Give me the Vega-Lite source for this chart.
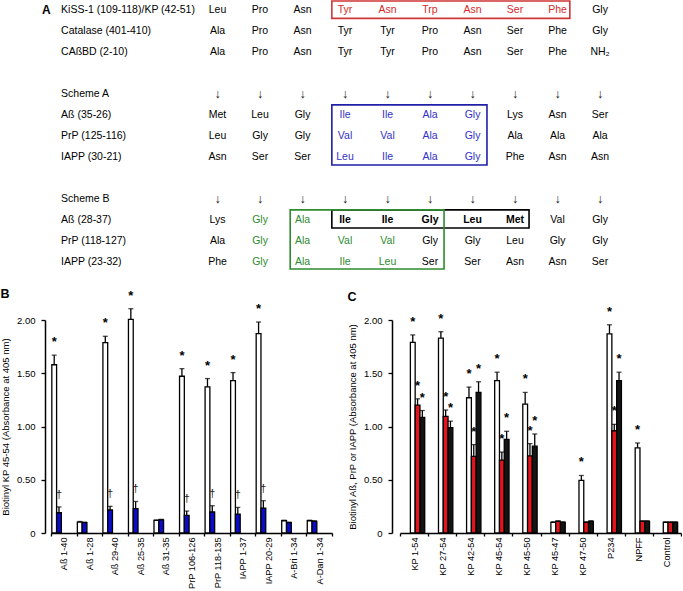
{
  "$schema": "https://vega.github.io/schema/vega-lite/v6.json",
  "padding": 0,
  "background": "white",
  "config": {
    "view": {"stroke": null},
    "font": "Liberation Sans",
    "axis": {"labelColor": "black", "tickColor": "black", "domainColor": "black", "titleColor": "black", "grid": false, "labelFontSize": 9.5, "titleFontSize": 9.5, "titleFontWeight": "normal", "domainWidth": 1.5, "tickWidth": 1.3},
    "title": {"color": "black"}
  },
  "datasets": {
    "cells": [
      {"r":0,"c":1,"t":"Leu","k":"p"},{"r":0,"c":2,"t":"Pro","k":"p"},{"r":0,"c":3,"t":"Asn","k":"p"},{"r":0,"c":4,"t":"Tyr","k":"r"},{"r":0,"c":5,"t":"Asn","k":"r"},{"r":0,"c":6,"t":"Trp","k":"r"},{"r":0,"c":7,"t":"Asn","k":"r"},{"r":0,"c":8,"t":"Ser","k":"r"},{"r":0,"c":9,"t":"Phe","k":"r"},{"r":0,"c":10,"t":"Gly","k":"p"},
      {"r":1,"c":1,"t":"Ala","k":"p"},{"r":1,"c":2,"t":"Pro","k":"p"},{"r":1,"c":3,"t":"Asn","k":"p"},{"r":1,"c":4,"t":"Tyr","k":"p"},{"r":1,"c":5,"t":"Tyr","k":"p"},{"r":1,"c":6,"t":"Pro","k":"p"},{"r":1,"c":7,"t":"Asn","k":"p"},{"r":1,"c":8,"t":"Ser","k":"p"},{"r":1,"c":9,"t":"Phe","k":"p"},{"r":1,"c":10,"t":"Gly","k":"p"},
      {"r":2,"c":1,"t":"Ala","k":"p"},{"r":2,"c":2,"t":"Pro","k":"p"},{"r":2,"c":3,"t":"Asn","k":"p"},{"r":2,"c":4,"t":"Tyr","k":"p"},{"r":2,"c":5,"t":"Tyr","k":"p"},{"r":2,"c":6,"t":"Pro","k":"p"},{"r":2,"c":7,"t":"Asn","k":"p"},{"r":2,"c":8,"t":"Ser","k":"p"},{"r":2,"c":9,"t":"Phe","k":"p"},{"r":2,"c":10,"t":"NH₂","k":"p"},
      {"r":4,"c":1,"t":"↓","k":"a"},{"r":4,"c":2,"t":"↓","k":"a"},{"r":4,"c":3,"t":"↓","k":"a"},{"r":4,"c":4,"t":"↓","k":"a"},{"r":4,"c":5,"t":"↓","k":"a"},{"r":4,"c":6,"t":"↓","k":"a"},{"r":4,"c":7,"t":"↓","k":"a"},{"r":4,"c":8,"t":"↓","k":"a"},{"r":4,"c":9,"t":"↓","k":"a"},{"r":4,"c":10,"t":"↓","k":"a"},
      {"r":5,"c":1,"t":"Met","k":"p"},{"r":5,"c":2,"t":"Leu","k":"p"},{"r":5,"c":3,"t":"Gly","k":"p"},{"r":5,"c":4,"t":"Ile","k":"b"},{"r":5,"c":5,"t":"Ile","k":"b"},{"r":5,"c":6,"t":"Ala","k":"b"},{"r":5,"c":7,"t":"Gly","k":"b"},{"r":5,"c":8,"t":"Lys","k":"p"},{"r":5,"c":9,"t":"Asn","k":"p"},{"r":5,"c":10,"t":"Ser","k":"p"},
      {"r":6,"c":1,"t":"Leu","k":"p"},{"r":6,"c":2,"t":"Gly","k":"p"},{"r":6,"c":3,"t":"Gly","k":"p"},{"r":6,"c":4,"t":"Val","k":"b"},{"r":6,"c":5,"t":"Val","k":"b"},{"r":6,"c":6,"t":"Ala","k":"b"},{"r":6,"c":7,"t":"Gly","k":"b"},{"r":6,"c":8,"t":"Ala","k":"p"},{"r":6,"c":9,"t":"Ala","k":"p"},{"r":6,"c":10,"t":"Ala","k":"p"},
      {"r":7,"c":1,"t":"Asn","k":"p"},{"r":7,"c":2,"t":"Ser","k":"p"},{"r":7,"c":3,"t":"Ser","k":"p"},{"r":7,"c":4,"t":"Leu","k":"b"},{"r":7,"c":5,"t":"Ile","k":"b"},{"r":7,"c":6,"t":"Ala","k":"b"},{"r":7,"c":7,"t":"Gly","k":"b"},{"r":7,"c":8,"t":"Phe","k":"p"},{"r":7,"c":9,"t":"Asn","k":"p"},{"r":7,"c":10,"t":"Asn","k":"p"},
      {"r":9,"c":1,"t":"↓","k":"a"},{"r":9,"c":2,"t":"↓","k":"a"},{"r":9,"c":3,"t":"↓","k":"a"},{"r":9,"c":4,"t":"↓","k":"a"},{"r":9,"c":5,"t":"↓","k":"a"},{"r":9,"c":6,"t":"↓","k":"a"},{"r":9,"c":7,"t":"↓","k":"a"},{"r":9,"c":8,"t":"↓","k":"a"},{"r":9,"c":9,"t":"↓","k":"a"},{"r":9,"c":10,"t":"↓","k":"a"},
      {"r":10,"c":1,"t":"Lys","k":"p"},{"r":10,"c":2,"t":"Gly","k":"g"},{"r":10,"c":3,"t":"Ala","k":"g"},{"r":10,"c":4,"t":"Ile","k":"k"},{"r":10,"c":5,"t":"Ile","k":"k"},{"r":10,"c":6,"t":"Gly","k":"k"},{"r":10,"c":7,"t":"Leu","k":"k"},{"r":10,"c":8,"t":"Met","k":"k"},{"r":10,"c":9,"t":"Val","k":"p"},{"r":10,"c":10,"t":"Gly","k":"p"},
      {"r":11,"c":1,"t":"Ala","k":"p"},{"r":11,"c":2,"t":"Gly","k":"g"},{"r":11,"c":3,"t":"Ala","k":"g"},{"r":11,"c":4,"t":"Val","k":"g"},{"r":11,"c":5,"t":"Val","k":"g"},{"r":11,"c":6,"t":"Gly","k":"p"},{"r":11,"c":7,"t":"Gly","k":"p"},{"r":11,"c":8,"t":"Leu","k":"p"},{"r":11,"c":9,"t":"Gly","k":"p"},{"r":11,"c":10,"t":"Gly","k":"p"},
      {"r":12,"c":1,"t":"Phe","k":"p"},{"r":12,"c":2,"t":"Gly","k":"g"},{"r":12,"c":3,"t":"Ala","k":"g"},{"r":12,"c":4,"t":"Ile","k":"g"},{"r":12,"c":5,"t":"Leu","k":"g"},{"r":12,"c":6,"t":"Ser","k":"p"},{"r":12,"c":7,"t":"Ser","k":"p"},{"r":12,"c":8,"t":"Asn","k":"p"},{"r":12,"c":9,"t":"Asn","k":"p"},{"r":12,"c":10,"t":"Ser","k":"p"}
    ],
    "labels": [
      {"r":0,"c":-2.68,"t":"KiSS-1 (109-118)/KP (42-51)"},
      {"r":1,"c":-2.68,"t":"Catalase (401-410)"},
      {"r":2,"c":-2.68,"t":"CAßBD (2-10)"},
      {"r":4,"c":-2.68,"t":"Scheme A"},
      {"r":5,"c":-2.68,"t":"Aß (35-26)"},
      {"r":6,"c":-2.68,"t":"PrP (125-116)"},
      {"r":7,"c":-2.68,"t":"IAPP (30-21)"},
      {"r":9,"c":-2.68,"t":"Scheme B"},
      {"r":10,"c":-2.68,"t":"Aß (28-37)"},
      {"r":11,"c":-2.68,"t":"PrP (118-127)"},
      {"r":12,"c":-2.68,"t":"IAPP (23-32)"}
    ],
    "boxes": [
      {"c1":3.69,"c2":9.29,"r1":-0.43,"r2":0.4,"k":"r"},
      {"c1":3.69,"c2":7.34,"r1":4.52,"r2":7.38,"k":"b"},
      {"c1":3.69,"c2":8.33,"r1":9.52,"r2":10.38,"k":"k"},
      {"c1":2.71,"c2":6.33,"r1":9.52,"r2":12.33,"k":"g"}
    ],
    "b": [
      {"g":"Aß 1-40","s":"1","v":1.58,"hi":1.67,"m":"*"},{"g":"Aß 1-40","s":"2","v":0.19,"hi":0.245,"m":"†"},
      {"g":"Aß 1-28","s":"1","v":0.103,"hi":0.108,"m":""},{"g":"Aß 1-28","s":"2","v":0.097,"hi":0.102,"m":""},
      {"g":"Aß 29-40","s":"1","v":1.787,"hi":1.847,"m":"*"},{"g":"Aß 29-40","s":"2","v":0.216,"hi":0.25,"m":"†"},
      {"g":"Aß 25-35","s":"1","v":2.006,"hi":2.106,"m":"*"},{"g":"Aß 25-35","s":"2","v":0.228,"hi":0.296,"m":"†"},
      {"g":"Aß 31-35","s":"1","v":0.118,"hi":0.122,"m":""},{"g":"Aß 31-35","s":"2","v":0.124,"hi":0.128,"m":""},
      {"g":"PrP 106-126","s":"1","v":1.472,"hi":1.543,"m":"*"},{"g":"PrP 106-126","s":"2","v":0.165,"hi":0.206,"m":"†"},
      {"g":"PrP 118-135","s":"1","v":1.372,"hi":1.45,"m":"*"},{"g":"PrP 118-135","s":"2","v":0.197,"hi":0.256,"m":"†"},
      {"g":"IAPP 1-37","s":"1","v":1.431,"hi":1.506,"m":"*"},{"g":"IAPP 1-37","s":"2","v":0.178,"hi":0.24,"m":"†"},
      {"g":"IAPP 20-29","s":"1","v":1.872,"hi":1.981,"m":"*"},{"g":"IAPP 20-29","s":"2","v":0.234,"hi":0.303,"m":"†"},
      {"g":"A-Bri 1-34","s":"1","v":0.115,"hi":0.12,"m":""},{"g":"A-Bri 1-34","s":"2","v":0.097,"hi":0.102,"m":""},
      {"g":"A-Dan 1-34","s":"1","v":0.115,"hi":0.12,"m":""},{"g":"A-Dan 1-34","s":"2","v":0.11,"hi":0.115,"m":""}
    ],
    "c": [
      {"g":"KP 1-54","s":"Aß","v":1.79,"hi":1.86,"m":"*"},{"g":"KP 1-54","s":"PrP","v":1.2,"hi":1.26,"m":"*"},{"g":"KP 1-54","s":"IAPP","v":1.085,"hi":1.15,"m":"*"},
      {"g":"KP 27-54","s":"Aß","v":1.83,"hi":1.89,"m":"*"},{"g":"KP 27-54","s":"PrP","v":1.095,"hi":1.155,"m":"*"},{"g":"KP 27-54","s":"IAPP","v":0.99,"hi":1.05,"m":"*"},
      {"g":"KP 42-54","s":"Aß","v":1.27,"hi":1.37,"m":"*"},{"g":"KP 42-54","s":"PrP","v":0.72,"hi":0.83,"m":"*"},{"g":"KP 42-54","s":"IAPP","v":1.32,"hi":1.42,"m":"*"},
      {"g":"KP 45-54","s":"Aß","v":1.43,"hi":1.51,"m":"*"},{"g":"KP 45-54","s":"PrP","v":0.685,"hi":0.76,"m":"*"},{"g":"KP 45-54","s":"IAPP","v":0.88,"hi":0.955,"m":"*"},
      {"g":"KP 45-50","s":"Aß","v":1.21,"hi":1.32,"m":"*"},{"g":"KP 45-50","s":"PrP","v":0.725,"hi":0.84,"m":"*"},{"g":"KP 45-50","s":"IAPP","v":0.815,"hi":0.93,"m":"*"},
      {"g":"KP 45-47","s":"Aß","v":0.1,"hi":0.105,"m":""},{"g":"KP 45-47","s":"PrP","v":0.11,"hi":0.115,"m":""},{"g":"KP 45-47","s":"IAPP","v":0.1,"hi":0.105,"m":""},
      {"g":"KP 47-50","s":"Aß","v":0.495,"hi":0.54,"m":"*"},{"g":"KP 47-50","s":"PrP","v":0.1,"hi":0.105,"m":""},{"g":"KP 47-50","s":"IAPP","v":0.11,"hi":0.115,"m":""},
      {"g":"P234","s":"Aß","v":1.87,"hi":1.955,"m":"*"},{"g":"P234","s":"PrP","v":0.96,"hi":1.02,"m":"*"},{"g":"P234","s":"IAPP","v":1.43,"hi":1.51,"m":"*"},
      {"g":"NPFF","s":"Aß","v":0.8,"hi":0.845,"m":"*"},{"g":"NPFF","s":"PrP","v":0.11,"hi":0.115,"m":""},{"g":"NPFF","s":"IAPP","v":0.11,"hi":0.115,"m":""},
      {"g":"Control","s":"Aß","v":0.1,"hi":0.105,"m":""},{"g":"Control","s":"PrP","v":0.1,"hi":0.105,"m":""},{"g":"Control","s":"IAPP","v":0.1,"hi":0.105,"m":""}
    ]
  },
  "spacing": 16,
  "align": "none",
  "resolve": {"scale": {"color": "independent", "fill": "independent", "stroke": "independent"}},
  "vconcat": [
    {
      "width": 631,
      "height": 272,
      "layer": [
        {
          "data": {"name": "boxes"},
          "mark": {"type": "rect", "filled": false, "strokeWidth": 1.6},
          "encoding": {
            "x": {"field": "c1", "type": "quantitative", "scale": {"domain": [-2.918, 11.929], "nice": false, "zero": false}, "axis": null},
            "x2": {"field": "c2"},
            "y": {"field": "r1", "type": "quantitative", "scale": {"domain": [-0.476, 12.476], "nice": false, "zero": false, "reverse": true}, "axis": null},
            "y2": {"field": "r2"},
            "stroke": {"field": "k", "type": "nominal", "scale": {"domain": ["p", "r", "b", "g", "k"], "range": ["#000000", "#d03535", "#1f1fa8", "#2e8b2e", "#000000"]}, "legend": null}
          }
        },
        {
          "data": {"name": "cells"},
          "transform": [{"filter": "datum.k !== 'k' && datum.k !== 'a'"}],
          "mark": {"type": "text", "fontSize": 10.5, "align": "center", "baseline": "middle"},
          "encoding": {
            "x": {"field": "c", "type": "quantitative"},
            "y": {"field": "r", "type": "quantitative"},
            "text": {"field": "t"},
            "fill": {"field": "k", "type": "nominal", "scale": {"domain": ["p", "r", "b", "g", "k"], "range": ["#000000", "#d42a2a", "#3232c8", "#2e8b2e", "#000000"]}, "legend": null}
          }
        },
        {
          "data": {"name": "cells"},
          "transform": [{"filter": "datum.k === 'a'"}],
          "mark": {"type": "text", "fontSize": 12.5, "align": "center", "baseline": "middle", "fill": "#222222"},
          "encoding": {
            "x": {"field": "c", "type": "quantitative"},
            "y": {"field": "r", "type": "quantitative"},
            "text": {"field": "t"}
          }
        },
        {
          "data": {"name": "cells"},
          "transform": [{"filter": "datum.k === 'k'"}],
          "mark": {"type": "text", "fontSize": 10.5, "fontWeight": "bold", "align": "center", "baseline": "middle", "fill": "black"},
          "encoding": {
            "x": {"field": "c", "type": "quantitative"},
            "y": {"field": "r", "type": "quantitative"},
            "text": {"field": "t"}
          }
        },
        {
          "data": {"name": "labels"},
          "mark": {"type": "text", "fontSize": 10.5, "align": "left", "baseline": "middle", "fill": "black"},
          "encoding": {
            "x": {"field": "c", "type": "quantitative"},
            "y": {"field": "r", "type": "quantitative"},
            "text": {"field": "t"}
          }
        },
        {
          "data": {"values": [{"t": "A", "c": -3.13, "r": 0}]},
          "mark": {"type": "text", "fontSize": 12, "fontWeight": "bold", "align": "left", "baseline": "middle", "fill": "black"},
          "encoding": {
            "x": {"field": "c", "type": "quantitative"},
            "y": {"field": "r", "type": "quantitative"},
            "text": {"field": "t"}
          }
        }
      ]
    },
    {
      "spacing": 14,
      "align": "none",
      "resolve": {"scale": {"color": "independent", "fill": "independent", "stroke": "independent"}},
      "hconcat": [
        {
          "width": 281,
          "height": 213,
          "title": {"text": "B", "anchor": "start", "frame": "bounds", "fontSize": 12.5, "fontWeight": "bold", "offset": -11},
          "data": {"name": "b"},
          "encoding": {
            "x": {"field": "g", "type": "nominal", "sort": null, "scale": {"paddingInner": 0, "paddingOuter": 0},
                  "axis": {"title": null, "labelAngle": -90, "tickBand": "extent", "tickSize": 3, "labelPadding": 1, "labelFontSize": 9.2}},
            "xOffset": {"field": "s", "type": "nominal", "sort": null, "scale": {"paddingInner": 0, "paddingOuter": 0.17}}
          },
          "layer": [
            {
              "mark": {"type": "rule", "strokeWidth": 1.3, "color": "black"},
              "encoding": {
                "y": {"field": "v", "type": "quantitative", "scale": {"domain": [0, 2], "nice": false},
                      "axis": {"title": "Biotinyl KP 45-54 (Absorbance at 405 nm)", "values": [0, 0.25, 0.5, 0.75, 1, 1.25, 1.5, 1.75, 2], "labelExpr": "datum.value === 0 ? '0' : format(datum.value, '.2f')", "offset": 6, "tickSize": 4, "labelPadding": 6, "titlePadding": 6}},
                "y2": {"field": "hi"}
              }
            },
            {
              "mark": {"type": "tick", "thickness": 1.3, "size": 5, "color": "black"},
              "encoding": {"y": {"field": "hi", "type": "quantitative", "title": "Biotinyl KP 45-54 (Absorbance at 405 nm)"}}
            },
            {
              "mark": {"type": "bar", "stroke": "black", "strokeWidth": 1.3},
              "encoding": {
                "y": {"field": "v", "type": "quantitative", "title": "Biotinyl KP 45-54 (Absorbance at 405 nm)"},
                "fill": {"field": "s", "type": "nominal", "scale": {"domain": ["1", "2"], "range": ["#ffffff", "#0b0bcc"]}, "legend": null}
              }
            },
            {
              "transform": [{"filter": "datum.m === '*'"}],
              "mark": {"type": "text", "fontSize": 13, "fontWeight": "bold", "baseline": "alphabetic", "dy": -9, "fill": "black"},
              "encoding": {"y": {"field": "hi", "type": "quantitative", "title": "Biotinyl KP 45-54 (Absorbance at 405 nm)"}, "text": {"field": "m"}}
            },
            {
              "transform": [{"filter": "datum.m === '†'"}],
              "mark": {"type": "text", "fontSize": 11, "baseline": "alphabetic", "dy": -9, "fill": "#222222"},
              "encoding": {"y": {"field": "hi", "type": "quantitative", "title": "Biotinyl KP 45-54 (Absorbance at 405 nm)"}, "text": {"field": "m"}}
            }
          ]
        },
        {
          "width": 281,
          "height": 213,
          "title": {"text": "C", "anchor": "start", "frame": "bounds", "fontSize": 12.5, "fontWeight": "bold", "offset": 2},
          "data": {"name": "c"},
          "encoding": {
            "x": {"field": "g", "type": "nominal", "sort": null, "scale": {"paddingInner": 0, "paddingOuter": 0},
                  "axis": {"title": null, "labelAngle": -90, "tickBand": "extent", "tickSize": 3, "labelPadding": 1, "labelFontSize": 9.2}},
            "xOffset": {"field": "s", "type": "nominal", "sort": null, "scale": {"paddingInner": 0, "paddingOuter": 0.02}}
          },
          "layer": [
            {
              "mark": {"type": "rule", "strokeWidth": 1.3, "color": "black"},
              "encoding": {
                "y": {"field": "v", "type": "quantitative", "scale": {"domain": [0, 2], "nice": false},
                      "axis": {"title": "Biotinyl Aß, PrP or IAPP (Absorbance at 405 nm)", "values": [0, 0.25, 0.5, 0.75, 1, 1.25, 1.5, 1.75, 2], "labelExpr": "datum.value === 0 ? '0' : format(datum.value, '.2f')", "offset": 8, "tickSize": 4, "labelPadding": 6, "titlePadding": 6}},
                "y2": {"field": "hi"}
              }
            },
            {
              "mark": {"type": "tick", "thickness": 1.3, "size": 5, "color": "black"},
              "encoding": {"y": {"field": "hi", "type": "quantitative", "title": "Biotinyl Aß, PrP or IAPP (Absorbance at 405 nm)"}}
            },
            {
              "mark": {"type": "bar", "stroke": "black", "strokeWidth": 1.3},
              "encoding": {
                "y": {"field": "v", "type": "quantitative", "title": "Biotinyl Aß, PrP or IAPP (Absorbance at 405 nm)"},
                "fill": {"field": "s", "type": "nominal", "scale": {"domain": ["Aß", "PrP", "IAPP"], "range": ["#ffffff", "#e3141b", "#141414"]}, "legend": null}
              }
            },
            {
              "transform": [{"filter": "datum.m === '*'"}],
              "mark": {"type": "text", "fontSize": 13, "fontWeight": "bold", "baseline": "alphabetic", "dy": -9, "fill": "black"},
              "encoding": {"y": {"field": "hi", "type": "quantitative", "title": "Biotinyl Aß, PrP or IAPP (Absorbance at 405 nm)"}, "text": {"field": "m"}}
            }
          ]
        }
      ]
    }
  ]
}
